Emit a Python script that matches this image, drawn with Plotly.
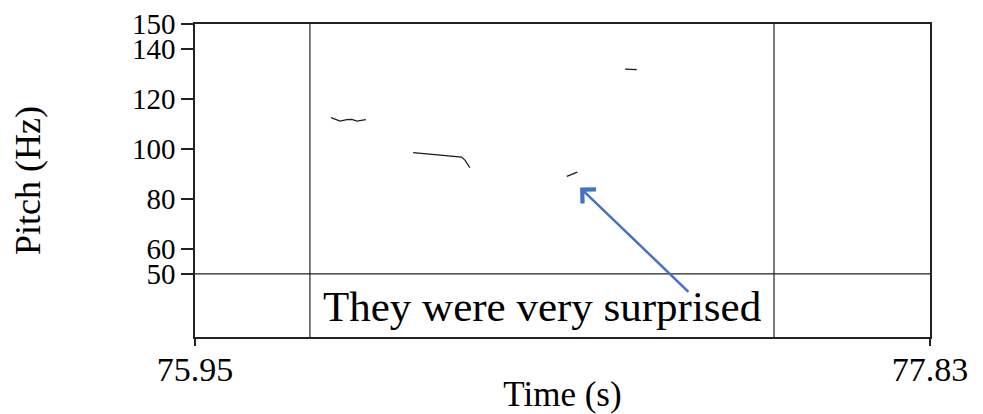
import plotly.graph_objects as go

# ---- data ----
time_range = [75.95, 77.83]
pitch_range_top = 150
pitch_ticks = [50, 60, 80, 100, 120, 140, 150]
tier_floor = 50          # pitch value where the text tier begins
tier_bottom = 24.7       # lower limit of the text tier (in pitch-axis units)

seg1_t = [76.298, 76.321, 76.338, 76.351, 76.364, 76.387]
seg1_f = [112.5, 111.1, 111.7, 111.8, 111.1, 111.7]
seg2_t = [76.508, 76.551, 76.589, 76.632, 76.641, 76.653]
seg2_f = [98.5, 97.8, 97.1, 96.7, 95.4, 92.5]
seg3_t = [76.901, 76.928]
seg3_f = [89.0, 90.7]
seg4_t = [77.050, 77.080]
seg4_f = [131.9, 131.7]

boundaries = [76.244, 77.431]
interval_text = "They were very surprised"

arrow_head = (76.935, 84.5)
arrow_tail = (77.216, 42.2)

FONT = "Liberation Serif"

fig = go.Figure()
for t, f in [(seg1_t, seg1_f), (seg2_t, seg2_f), (seg3_t, seg3_f), (seg4_t, seg4_f)]:
    fig.add_trace(go.Scatter(x=t, y=f, mode="lines",
                             line=dict(color="#1a1a1a", width=1.2),
                             hoverinfo="skip", showlegend=False))

# tier boundary line and interval boundaries
fig.add_shape(type="line", xref="paper", x0=0, x1=1, yref="y",
              y0=tier_floor, y1=tier_floor, line=dict(color="#222", width=1.2))
for b in boundaries:
    fig.add_shape(type="line", xref="x", x0=b, x1=b, yref="y",
                  y0=tier_bottom, y1=pitch_range_top,
                  line=dict(color="#222", width=1.2))

fig.add_annotation(x=sum(boundaries) / 2, y=37, xref="x", yref="y",
                   text=interval_text, showarrow=False,
                   font=dict(family=FONT, size=43, color="black"))

fig.add_annotation(x=arrow_head[0], y=arrow_head[1], xref="x", yref="y",
                   ax=arrow_tail[0], ay=arrow_tail[1], axref="x", ayref="y",
                   text="", showarrow=True, arrowhead=4, arrowsize=1.5,
                   arrowwidth=2.5, arrowcolor="#4472C4", standoff=0)

# the page adds an 8px body margin, so the figure is sized to fit inside it
fig.update_layout(
    width=975, height=406,
    margin=dict(l=187, r=53, t=15.5, b=77.3, autoexpand=False),
    paper_bgcolor="white", plot_bgcolor="white",
    font=dict(family=FONT, color="black"),
    xaxis=dict(range=time_range, tickvals=time_range, automargin=False,
               ticktext=[f"{v:.2f}" for v in time_range],
               showgrid=False, zeroline=False, showline=True, mirror=True,
               linecolor="#222", linewidth=1.5, ticks="outside", ticklen=7,
               tickcolor="#222", tickwidth=1.5, ticklabelstandoff=-6,
               tickfont=dict(family=FONT, size=34),
               title=dict(text="Time (s)", font=dict(family=FONT, size=35), standoff=2)),
    yaxis=dict(range=[tier_bottom, pitch_range_top], tickvals=pitch_ticks, automargin=False,
               showgrid=False, zeroline=False, showline=True, mirror=True,
               linecolor="#222", linewidth=1.5, ticks="outside", ticklen=12,
               tickcolor="#222", tickwidth=1.5,
               tickfont=dict(family=FONT, size=29),
               title=dict(text="Pitch (Hz)", font=dict(family=FONT, size=36), standoff=82)),
)

fig.write_html("out.html")
